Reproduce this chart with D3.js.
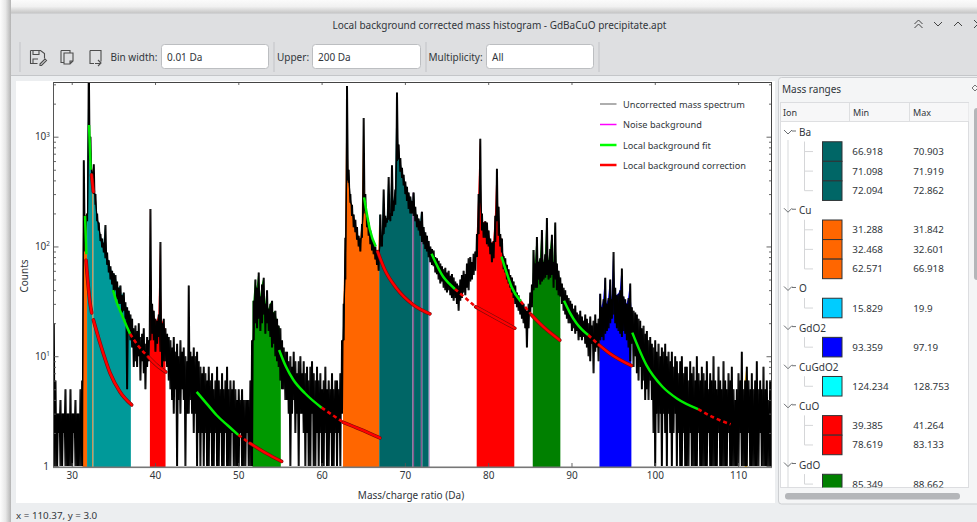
<!DOCTYPE html>
<html><head><meta charset="utf-8">
<style>html,body{margin:0;padding:0;background:#fff;overflow:hidden}svg{display:block}text{font-family:"Noto Sans",sans-serif}</style>
<script src="https://cdn.jsdelivr.net/npm/d3@7"></script></head><body><svg id="c" width="977" height="522"></svg>
<script>
// ---------- histogram columns (counts), one per bin starting at massStart ----------
const massStart = 27.8, massStep = 0.2;
const spectrumHigh = [
20,6,3,3,4,3,3,5,3,3,
5,3,3,4,3,3,5,6,610,190,
200,5000,1000,480,560,300,200,165,130,118,
108,157,88,75,66,60,57,55,48,42,
44,36,38,31,28,26,24,22,18,19,
17,20,15,16,18,13,15,14,220,30,
26,22,21,24,110,20,22,18,16,15,
14,12,15,11,13,10,14,11,12,10,
9,44,11,10,12,10,11,9,8,7,
8,7,6,8,6,7,5,6,8,6,
5,7,5,6,8,5,6,5,6,5,
4,5,4,5,4,4,4,4,6,14,
32,50,42,58,35,45,52,30,40,27,
30,32,25,26,22,19,18,14,12,11,
11,9,10,8,11,9,7,9,10,7,
9,7,8,6,8,9,7,6,8,6,
7,5,6,8,5,6,5,7,5,6,
6,5,7,14,30,120,2900,500,300,240,
195,175,150,125,118,160,1480,300,190,165,
140,122,110,100,92,88,195,125,330,190,
180,430,200,550,260,330,2530,850,640,520,
450,390,350,310,285,260,310,230,195,180,
170,207,150,135,125,112,100,95,92,80,
78,74,70,66,62,64,58,60,54,56,
52,48,46,44,50,55,60,56,70,78,
80,72,86,90,130,300,960,200,165,170,
165,140,118,108,112,190,510,230,130,118,
82,78,68,62,55,52,48,44,38,36,
33,31,30,28,26,30,38,45,93,70,
122,72,78,141,72,85,182,75,95,128,
72,165,70,60,52,46,42,40,36,34,
32,30,27,29,25,24,26,23,21,24,
22,20,23,19,21,24,20,22,37,28,
33,52,30,34,50,33,89,42,36,37,
40,63,35,33,30,34,46,28,26,25,
24,22,21,18,19,16,17,14,15,13,
12,14,11,13,10,12,11,13,10,11,
9,11,8,10,9,7,9,10,7,8,
8,6,9,7,8,6,10,7,6,8,
7,6,9,5,7,6,10,6,5,8,
6,5,9,6,5,7,6,8,5,4,
5,7,6,11,5,6,8,6,5,7,
5,6,9,5,6,5,8,5,6,4,
6,5];
const spectrumLow = [
1,1,1,2,1,1,2,1,1,1,
1,1,2,1,1,1,1,1,90,120,
170,1000,600,380,300,240,170,140,112,98,
88,78,68,58,50,45,38,40,33,30,
30,25,26,22,5,17,14,12,8,9,
8,10,6,9,7,5,8,9,14,16,
14,11,13,15,11,8,9,9,8,6,
5,4,3,5,1,4,3,5,4,1,
3,3,4,3,2,3,1,2,1,2,
1,2,1,1,2,1,1,2,1,1,
2,1,1,2,1,1,1,2,1,1,
1,1,2,1,1,1,2,1,1,1,
14,20,18,22,17,20,24,16,20,17,
15,12,13,10,9,8,6,5,5,4,
4,3,1,3,4,2,3,1,3,3,
2,1,2,1,1,3,1,1,2,1,
2,1,1,2,1,1,2,1,1,2,
1,2,1,3,14,50,400,380,250,190,
150,135,115,100,90,120,200,210,150,125,
105,92,85,76,68,60,100,100,130,150,
165,175,170,190,210,240,600,620,480,420,
360,300,260,220,200,200,190,170,150,140,
125,110,105,95,90,80,72,68,66,58,
56,50,46,48,42,40,38,40,36,34,
32,34,30,26,32,34,38,36,42,40,
48,50,55,60,80,130,250,140,120,120,
105,100,85,72,78,110,170,125,100,88,
62,58,50,46,42,38,34,30,28,26,
24,22,20,18,12,18,24,28,40,42,
42,50,45,48,50,52,55,50,52,55,
42,50,40,36,35,30,26,24,22,20,
20,17,18,16,17,14,15,14,15,13,
12,10,9,13,7,11,12,9,14,15,
14,16,17,18,20,22,24,20,18,17,
16,15,17,16,14,12,9,13,8,10,
7,6,8,5,6,4,5,4,6,4,
2,1,3,2,3,1,3,2,1,3,
2,1,2,3,1,2,1,1,2,1,
1,1,2,1,1,1,1,2,1,1,
1,1,1,2,1,1,1,1,1,2,
1,1,1,1,1,2,1,1,1,1,
1,1,2,1,1,1,1,2,1,1,
1,1,1,1,2,1,1,1,1,1,
1,1];

// ---------- filled mass windows in the plot ----------
const fillMin   = [31.288,31.842,32.468,32.601,39.385,51.7,62.571,66.918,70.903,71.098,71.919,72.094,72.862,78.619,85.349,93.359,110.8];
const fillMax   = [31.842,32.468,32.601,37.1,41.264,55.1,66.918,70.903,71.098,71.919,72.094,72.862,73.0,83.133,88.662,97.19,111.1];
const fillColor = ["#ff6600","#009999","#d07a28","#009999","#ff0000","#009900","#ff6600","#006666","#85588f","#006666","#85588f","#006666","#c8a6d8","#ff0000","#008000","#0000ff","#ffbb00"];

// ---------- fit curves, [mass, counts] ----------
const greenSegments = [
 [[31.6,190],[31.68,125],[31.76,85]],
 [[32.08,1280],[32.18,800],[32.28,500]],
 [[34.96,40],[35.4,31],[35.92,24.8],[36.5,19.5],[37.0,16]],
 [[45,4.73],[46.2,3.7],[47.4,2.9],[48.7,2.35],[50,1.92]],
 [[54.9,11.4],[55.7,8.1],[56.6,6.1],[58,4.6],[60,3.4]],
 [[65.1,280],[65.45,195],[65.8,142],[66.5,100]],
 [[73.2,85.7],[74.6,53],[75.3,46],[76,41]],
 [[81.6,81],[82.2,58],[82.8,43],[83.9,31.6]],
 [[89.1,32],[89.8,25],[90.6,20],[92,15.6]],
 [[97.3,16.4],[99.0,8.3],[100.9,5.3],[102.7,4.1],[105.2,3.3]]
];
const dashSegments = [
 [[37.0,16],[38.08,12.2],[39.2,9.85]],
 [[50,1.92],[51.4,1.61]],
 [[60,3.4],[62.6,2.5]],
 [[76,41],[78.5,28.2]],
 [[83.9,31.6],[85.2,23.8]],
 [[92,15.6],[93.3,12.7]],
 [[105.2,3.3],[107,2.78],[109.1,2.4]]
];
const redSegments = [
 [[31.72,75],[31.99,43],[32.2,30.6],[32.4,24.8]],
 [[32.6,21.4],[33.4,13.2],[34.6,7.04],[35.8,4.73],[37.2,3.6]],
 [[32.38,450],[32.6,315]],
 [[39.2,9.85],[40.2,8.3],[41.3,7.2]],
 [[51.4,1.61],[53.4,1.3],[55.2,1.1]],
 [[62.6,2.5],[64.6,2.17],[67,1.8]],
 [[66.73,89.6],[67.6,61],[69,41.5],[71,29.4],[73,24.3]],
 [[78.5,28.2],[80.8,22.6],[83.2,18]],
 [[85.2,23.8],[86.6,18.6],[88.6,14]],
 [[93.3,12.7],[94.6,10.6],[97.2,8.2]]
];

// ---------- axes and legend ----------
const xTicks = [30,40,50,60,70,80,90,100,110];
const yMajor = [1,10,100,1000];
const yMinor = [2,3,4,5,6,7,8,9,20,30,40,50,60,70,80,90,200,300,400,500,600,700,800,900,2000,3000];
const legendNames  = ["Uncorrected mass spectrum","Noise background","Local background fit","Local background correction"];
const legendColors = ["#777777","#ff00ff","#00ff00","#ff0000"];
const legendWidths = [1.2,1.5,2.5,2.5];

// ---------- side table ----------
const ionNames  = ["Ba","Cu","O","GdO2","CuGdO2","CuO","GdO"];
const ionColors = ["#006666","#ff6600","#00ccff","#0000ff","#00ffff","#ff0000","#008000"];
const ionMins   = [["66.918","71.098","72.094"],["31.288","32.468","62.571"],["15.829"],["93.359"],["124.234"],["39.385","78.619"],["85.349"]];
const ionMaxs   = [["70.903","71.919","72.862"],["31.842","32.601","66.918"],["19.9"],["97.19"],["128.753"],["41.264","83.133"],["88.662"]];

const svg = d3.select("#c");
const INK = "#31363b";
const defs = svg.append("defs");
function grad(id,x2,y2,stops){const g=defs.append("linearGradient").attr("id",id).attr("x1",0).attr("y1",0).attr("x2",x2).attr("y2",y2);
 stops.forEach(s=>g.append("stop").attr("offset",s[0]).attr("stop-color",s[1]));}
grad("shTop",0,1,[[0,"#fbfbfb"],[0.5,"#f1f1f1"],[1,"#c6c6c6"]]);
grad("shLeft",1,0,[[0,"#fdfdfd"],[0.5,"#e8e8e8"],[1,"#b4b4b4"]]);
const rect=(p,x,y,w,h,f,o={})=>{const r=p.append("rect").attr("x",x).attr("y",y).attr("width",w).attr("height",h).attr("fill",f);
 Object.entries(o).forEach(([k,v])=>r.attr(k,v));return r;};
const text=(p,x,y,s,o={})=>{const t=p.append("text").attr("x",x).attr("y",y).attr("dominant-baseline","central").attr("font-size",10).attr("fill",INK).text(s);
 Object.entries(o).forEach(([k,v])=>t.attr(k,v));return t;};

// ---- window chrome ----
rect(svg,0,0,977,522,"#ffffff");
rect(svg,0,0,977,13,"url(#shTop)");
rect(svg,0,0,11,522,"url(#shLeft)");
rect(svg,11,13,966,509,"#dedfe1");
rect(svg,11,76,966,446,"#eceef0");
rect(svg,11,75,966,1,"#c4c6c9");
rect(svg,11,13,966,1,"#cfd0d2");
text(svg,499.5,25,"Local background corrected mass histogram - GdBaCuO precipitate.apt",{"text-anchor":"middle"});
// title bar controls
const wm=svg.append("g").attr("fill","none").attr("stroke","#444").attr("stroke-width",1);
[[918.5,22,-1],[918.5,26,-1],[938,24,1],[958,24,-1]].forEach(c=>wm.append("path").attr("d",`M${c[0]-4},${c[1]-2*c[2]}L${c[0]},${c[1]+2*c[2]}L${c[0]+4},${c[1]-2*c[2]}`));
wm.append("path").attr("d","M974,20L978,24M974,28L978,24");
// toolbar
[19.5,273.5,425.5,598.5].forEach(x=>rect(svg,x,42,1,30,"#c2c4c7"));
const ic=svg.append("g").attr("fill","none").attr("stroke","#4d4d4d").attr("stroke-width",1.1);
ic.append("path").attr("d","M30.5,50.5h10l4,3v5M30.5,50.5v13h7M33,50.5v4h6v-4M33,63v-4h5");
ic.append("path").attr("d","M40,64l5,-5l1.5,1.5l-5,5h-1.5z");
ic.append("path").attr("d","M61,50.5h9v2M61,50.5v12h3M64,53h9v8l-3,3h-6zM73,61h-3v3");
ic.append("path").attr("d","M90,50.5h11v11M90,50.5v13h4M95,63.5h5M98,60l3,3l-3,3");
text(svg,110.5,57,"Bin width:");
text(svg,277,57,"Upper:");
text(svg,428.5,57,"Multiplicity:");
[[161.5,107,"0.01 Da"],[312.5,108,"200 Da"],[486.5,107,"All"]].forEach(b=>{
 rect(svg,b[0],44.5,b[1],24,"#ffffff",{rx:3,stroke:"#bcbec1"});
 text(svg,b[0]+5.5,57,b[2]);
});
text(svg,16,515.5,"x = 110.37, y = 3.0",{"font-size":9.8});
rect(svg,16,81,759,422,"#ffffff");

// ---- plot ----
const x=d3.scaleLinear().domain([27.8,114]).range([53.4,771.4]);
const y=d3.scaleLog().domain([1,3150]).range([466,82]);
defs.append("clipPath").attr("id","pc").append("rect").attr("x",53.4).attr("y",82).attr("width",718).attr("height",385);
const plot=svg.append("g").attr("clip-path","url(#pc)");
const bins=spectrumHigh.map((h,i)=>({m:massStart+i*massStep,h:h,l:spectrumLow[i]}));
const hiAt=m=>{const i=Math.max(0,Math.min(bins.length-1,Math.round((m-massStart)/massStep)));return bins[i].h;};
const fillArea=d3.area().x(d=>x(d[0])).y0(y(1)+1).y1(d=>y(d[1]));
fillMin.forEach((a,i)=>{
 const b=fillMax[i];
 const pts=[[a,hiAt(a)]].concat(bins.filter(d=>d.m>a&&d.m<b).map(d=>[d.m,d.h])).concat([[b,hiAt(b)]]);
 plot.append("path").attr("d",fillArea(pts)).attr("fill",fillColor[i]);
});
// the histogram swings between each bin's high and low count: two interleaved traces of the same bins
const zigA=[],zigB=[];
bins.forEach(d=>{zigA.push([d.m,d.h]);zigA.push([d.m+massStep/2,d.l]);zigB.push([d.m,d.l]);zigB.push([d.m+massStep/2,d.h]);});
const spectrumLine=d3.line().x(d=>x(d[0])).y(d=>y(d[1]));
[zigA,zigB].forEach(z=>plot.append("path").attr("d",spectrumLine(z)).attr("fill","none").attr("stroke","#000").attr("stroke-width",1.15).attr("stroke-linejoin","bevel"));
const fitLine=d3.line().x(d=>x(d[0])).y(d=>y(d[1])).curve(d3.curveMonotoneX);
dashSegments.forEach(s=>plot.append("path").attr("d",fitLine(s)).attr("fill","none").attr("stroke","#f00000").attr("stroke-width",2.6).attr("stroke-dasharray","4 3"));
redSegments.forEach(s=>{
 plot.append("path").attr("d",fitLine(s)).attr("fill","none").attr("stroke","#7a0a0a").attr("stroke-width",3.6).attr("stroke-linecap","round");
 plot.append("path").attr("d",fitLine(s)).attr("fill","none").attr("stroke","#ff0000").attr("stroke-width",2.4).attr("stroke-linecap","round");
});
greenSegments.forEach(s=>plot.append("path").attr("d",fitLine(s)).attr("fill","none").attr("stroke","#00ee00").attr("stroke-width",2.5));

// axes
const styleAxis=g=>{g.select(".domain").remove();g.selectAll(".tick line").attr("stroke","#555").attr("stroke-width",0.9);
 g.selectAll("text").attr("font-family","Noto Sans").attr("font-size",10).attr("fill",INK);};
svg.append("g").attr("transform","translate(0,467)").call(d3.axisBottom(x).tickValues(xTicks).tickFormat(d3.format("d")).tickSizeInner(-4).tickSizeOuter(0).tickPadding(5)).call(styleAxis);
svg.append("g").attr("transform","translate(0,82)").call(d3.axisTop(x).tickValues(xTicks).tickFormat("").tickSizeInner(-3).tickSizeOuter(0)).call(styleAxis);
svg.append("g").attr("transform","translate(53.5,0)").call(d3.axisLeft(y).tickValues(yMajor).tickFormat("").tickSizeInner(-5).tickSizeOuter(0).tickPadding(5)).call(styleAxis);
svg.append("g").attr("transform","translate(53.5,0)").call(d3.axisLeft(y).tickValues(yMinor).tickFormat("").tickSizeInner(-2.5).tickSizeOuter(0)).call(styleAxis);
svg.append("g").attr("transform","translate(771.5,0)").call(d3.axisRight(y).tickValues(yMajor).tickFormat("").tickSizeInner(-5).tickSizeOuter(0)).call(styleAxis);
svg.append("g").attr("transform","translate(771.5,0)").call(d3.axisRight(y).tickValues(yMinor).tickFormat("").tickSizeInner(-2.5).tickSizeOuter(0)).call(styleAxis);
yMajor.forEach(v=>{
 const exp=Math.round(Math.log10(v));
 const t=svg.append("text").attr("x",v===1?49:50).attr("y",y(v)+3.6).attr("text-anchor","end").attr("font-size",10).attr("fill",INK);
 if(v===1){t.text("1");}else{t.append("tspan").text("10");t.append("tspan").attr("font-size",6.4).attr("dy",-3.6).text(exp);}
});
rect(svg,53,82,719,1,"#444444");
rect(svg,53,82,1,386,"#555555");
rect(svg,771,82,1,386,"#444444");
rect(svg,53,466.5,719,1.6,"#777777");
text(svg,411,495,"Mass/charge ratio (Da)",{"text-anchor":"middle"});
text(svg,0,0,"Counts",{"text-anchor":"middle",transform:"translate(23.5,276) rotate(-90)"});
// legend
legendNames.forEach((n,i)=>{
 const ly=[104,124.5,145,165][i];
 svg.append("line").attr("x1",600).attr("x2",616.5).attr("y1",ly).attr("y2",ly).attr("stroke",legendColors[i]).attr("stroke-width",legendWidths[i]);
 text(svg,623,ly,n,{"font-size":9.2});
});

// ---- side panel ----
const P=svg.append("g");
rect(P,778.5,77.5,210,426.5,"#f4f5f6",{rx:3,stroke:"#cdcfd2"});
text(P,782,89,"Mass ranges");
P.append("path").attr("d","M972,88l3,-3l3,3l-3,3z").attr("fill","none").attr("stroke","#777");
rect(P,780.5,102.5,188,385,"#ffffff",{stroke:"#dcdde0"});
rect(P,781,103,187.5,18,"#f7f7f8");
rect(P,781,121,187.5,1,"#dedfe1");
[849,909].forEach(v=>rect(P,v,103,1,18,"#dedfe1"));
text(P,783,112,"Ion",{"font-size":9});
text(P,853,112,"Min",{"font-size":9});
text(P,913,112,"Max",{"font-size":9});
defs.append("clipPath").attr("id","tc").append("rect").attr("x",781).attr("y",122).attr("width",187).attr("height",365.5);
const T=P.append("g").attr("clip-path","url(#tc)");
rect(T,787.5,140,1,350,"#d8d9db");
const pitch=19.56;let row=0;const rowY=r=>132+r*pitch;
ionNames.forEach((n,i)=>{
 const gy=rowY(row);
 T.append("path").attr("d",`M784,${gy-2}l4,4l4,-4M792,${gy-1}h4`).attr("fill","none").attr("stroke","#6b6e72");
 text(T,799,gy,n);
 row++;
 const first=row;
 ionMins[i].forEach((mn,j)=>{
  const ry=rowY(row);
  rect(T,822.5,ry-9.8,19.5,19.56,ionColors[i],{stroke:"#2f3336","stroke-width":1});
  T.append("path").attr("d",`M804.5,${ry}h8.5`).attr("stroke","#d5d6d8").attr("fill","none");
  text(T,852.3,ry,mn,{"font-size":9.8});
  text(T,913.2,ry,ionMaxs[i][j],{"font-size":9.8});
  row++;
 });
 T.append("path").attr("d",`M804.5,${rowY(first)-10}V${rowY(row-1)}`).attr("stroke","#d5d6d8").attr("fill","none");
});
rect(P,785,493,175,6.5,"#b4b6b9",{rx:3});
rect(P,974,108,6,172,"#b4b6b9",{rx:3});
</script></body></html>
